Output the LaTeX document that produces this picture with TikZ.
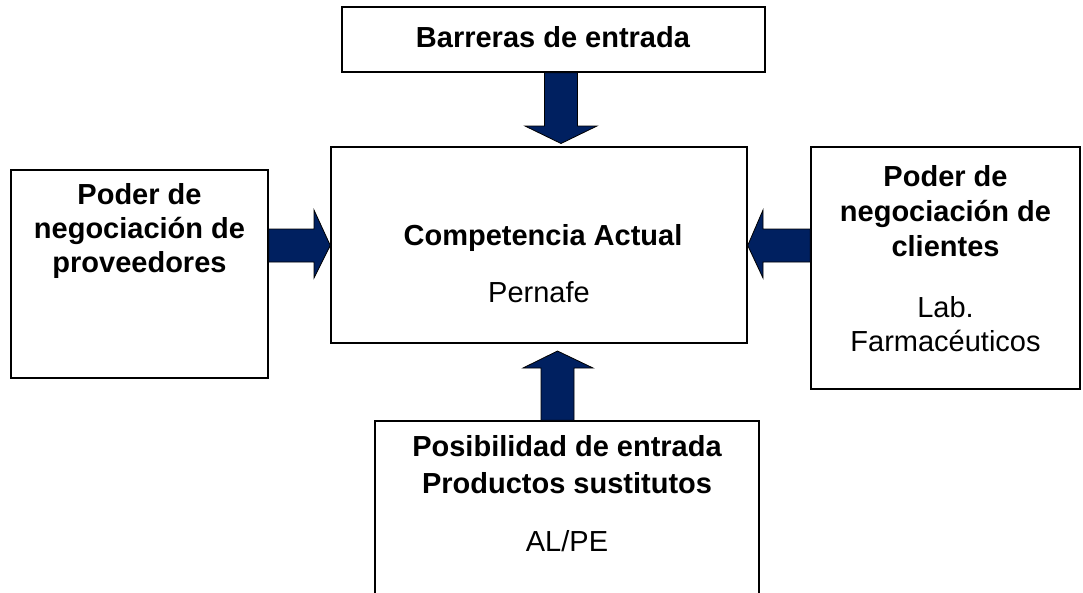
\documentclass[tikz,border=0pt]{standalone}
\usepackage{fontspec}
\setmainfont{Liberation Sans}
\usetikzlibrary{calc}
\definecolor{navy}{RGB}{0,32,96}
\begin{document}
\begin{tikzpicture}[x=1pt,y=-1pt,
  box/.style={draw=black,line width=1.4pt,fill=white,inner sep=0pt,rectangle},
  bt/.style={anchor=base,inner sep=0pt,font=\fontsize{29}{35}\selectfont\bfseries},
  rt/.style={anchor=base,inner sep=0pt,font=\fontsize{29}{35}\selectfont},
  fatarrow/.style={fill=navy,draw=black,line width=0.8pt,line join=miter}]
\useasboundingbox (0,0) rectangle (1083,592);
\clip (0,0) rectangle (1083,592);
\fill[white] (0,0) rectangle (1083,592);
% boxes
\node[box,minimum width=423pt,minimum height=65pt] (top) at (553.5,39.5) {};
\node[box,minimum width=257pt,minimum height=208pt] (left) at (139.5,274) {};
\node[box,minimum width=416pt,minimum height=196pt] (center) at (539,245) {};
\node[box,minimum width=269pt,minimum height=242pt] (right) at (945.5,268) {};
\node[box,minimum width=384pt,minimum height=200pt] (bottom) at (567,521) {};
% texts
\node[bt] (t1) at (553,47) {Barreras de entrada};
\node[bt] (l1) at (139.5,204) {Poder de};
\node[bt] (l2) at (139.5,238.5) {negociación de};
\node[bt] (l3) at (139.5,272) {proveedores};
\node[bt] (c1) at (543,245) {Competencia Actual};
\node[rt] (c2) at (539,302) {Pernafe};
\node[bt] (r1) at (945.5,186) {Poder de};
\node[bt] (r2) at (945.5,221) {negociación de};
\node[bt] (r3) at (945.5,256) {clientes};
\node[rt] (r4) at (945.5,317) {Lab.};
\node[rt] (r5) at (945.5,351) {Farmacéuticos};
\node[bt] (b1) at (567,456) {Posibilidad de entrada};
\node[bt] (b2) at (567,493) {Productos sustitutos};
\node[rt] (b3) at (567,551.5) {AL/PE};
% arrows
\draw[fatarrow] (top.south -| 544.5,0) -- (top.south -| 577.5,0) -- (577.5,126) -- (597,126)
  -- (561,143.5) -- (525,126) -- (544.5,126) -- cycle;
\draw[fatarrow] (bottom.north -| 541,0) -- (bottom.north -| 574,0) -- (574,368) -- (593,368)
  -- (557.5,351) -- (523,368) -- (541,368) -- cycle;
\draw[fatarrow] (left.east |- 0,229) -- (314,229) -- (314,210) -- (center.west |- 0,245.5)
  -- (314,278) -- (314,262) -- (left.east |- 0,262) -- cycle;
\draw[fatarrow] (right.west |- 0,229) -- (763,229) -- (763,210) -- (center.east |- 0,245.5)
  -- (763,278) -- (763,262) -- (right.west |- 0,262) -- cycle;
\end{tikzpicture}
\end{document}
